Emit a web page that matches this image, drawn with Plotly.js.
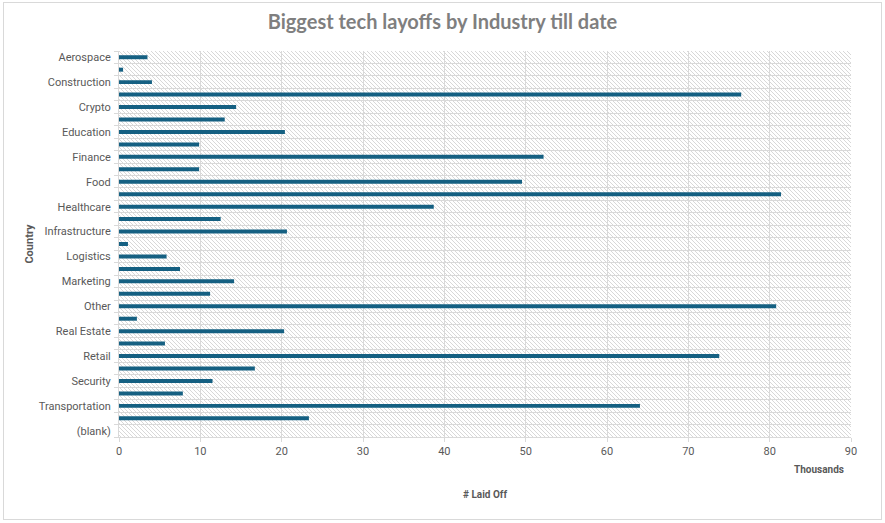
<!DOCTYPE html>
<html>
<head>
<meta charset="utf-8">
<script src="https://cdn.plot.ly/plotly-3.0.1.min.js"></script>
<style>
  html, body { margin: 0; padding: 0; background: #ffffff; }
  #wrap { position: relative; width: 885px; height: 523px; }
  #chart { position: absolute; left: 0; top: 0; width: 885px; height: 523px; }
  #frame { position: absolute; left: 3px; top: 2px; width: 877px; height: 516px; border: 1px solid #d9d9d9; pointer-events: none; }
</style>
</head>
<body>
<div id="wrap">
  <div id="chart"></div>
  <div id="frame"></div>
</div>
<script>
const industries = ["Aerospace","AI","Construction","Consumer","Crypto","Data","Education","Energy","Finance","Fitness","Food","Hardware","Healthcare","HR","Infrastructure","Legal","Logistics","Manufacturing","Marketing","Media","Other","Product","Real Estate","Recruiting","Retail","Sales","Security","Support","Transportation","Travel","(blank)"];
const laidOffThousands = [3.5,0.5,4.05,76.5,14.4,13.0,20.4,9.85,52.2,9.85,49.55,81.4,38.7,12.5,20.65,1.1,5.85,7.5,14.15,11.2,80.8,2.2,20.3,5.65,73.8,16.7,11.5,7.85,64.05,23.35,0];
const xTicks = [0,10,20,30,40,50,60,70,80,90];

const tickText = industries.map((c, i) => (i % 2 === 0 ? c : ""));

const hatch = "data:image/svg+xml;base64," + btoa(
  '<svg xmlns="http://www.w3.org/2000/svg" width="732" height="386">' +
  '<defs><pattern id="p" width="4" height="4" patternUnits="userSpaceOnUse">' +
  '<path d="M-1,-1 L5,5 M3,-1 L5,1 M-1,3 L1,5" stroke="#d4d4d4" stroke-width="0.9"/>' +
  '</pattern></defs><rect width="732" height="386" fill="#ffffff"/>' +
  '<rect width="732" height="386" fill="url(#p)"/></svg>');

const trace = {
  type: "bar",
  orientation: "h",
  y: industries,
  x: laidOffThousands,
  marker: { color: "#156082" },
  hoverinfo: "x+y"
};

const layout = {
  width: 885,
  height: 523,
  margin: { l: 119, r: 34, t: 51, b: 86 },
  paper_bgcolor: "rgba(0,0,0,0)",
  plot_bgcolor: "rgba(0,0,0,0)",
  bargap: 0.68,
  showlegend: false,
  font: { family: "Roboto, Open Sans, sans-serif", color: "#595959", size: 11 },
  title: {
    text: "<b>Biggest tech layoffs by Industry till date</b>",
    font: { family: "Lato, Open Sans, sans-serif", size: 20, color: "#7f7f7f" },
    x: 0.5, xanchor: "center", y: 0.958, yanchor: "middle"
  },
  xaxis: {
    range: [0, 90],
    tickmode: "array",
    tickvals: xTicks,
    ticktext: xTicks.map(String),
    showgrid: true,
    gridcolor: "#d9d9d9",
    gridwidth: 1,
    zeroline: false,
    showline: true,
    linecolor: "#d9d9d9",
    ticks: "outside",
    ticklen: 4,
    tickcolor: "#d9d9d9",
    tickfont: { size: 11, color: "#595959" },
    title: { text: "<b># Laid Off</b>", font: { size: 10, color: "#595959" }, standoff: 33 }
  },
  yaxis: {
    type: "category",
    autorange: "reversed",
    tickmode: "array",
    tickvals: industries,
    ticktext: tickText,
    tickson: "boundaries",
    ticks: "outside",
    ticklen: 4,
    tickcolor: "#d9d9d9",
    ticklabelstandoff: 5,
    showgrid: true,
    gridcolor: "#d9d9d9",
    gridwidth: 1,
    showline: true,
    linecolor: "#d9d9d9",
    zeroline: false,
    tickfont: { size: 11, color: "#595959" },
    title: { text: "<b>Country</b>", font: { size: 11, color: "#595959" }, standoff: 2 }
  },
  images: [{
    source: hatch,
    xref: "paper", yref: "paper",
    x: 0, y: 1, sizex: 1, sizey: 1,
    xanchor: "left", yanchor: "top",
    sizing: "stretch",
    layer: "below"
  }],
  annotations: [{
    text: "<b>Thousands</b>",
    xref: "paper", yref: "paper",
    x: 0.993, y: -0.083,
    xanchor: "right", yanchor: "middle",
    showarrow: false,
    font: { size: 10, color: "#595959" }
  }]
};

Plotly.newPlot("chart", [trace], layout, { displayModeBar: false, staticPlot: true });
</script>
</body>
</html>
